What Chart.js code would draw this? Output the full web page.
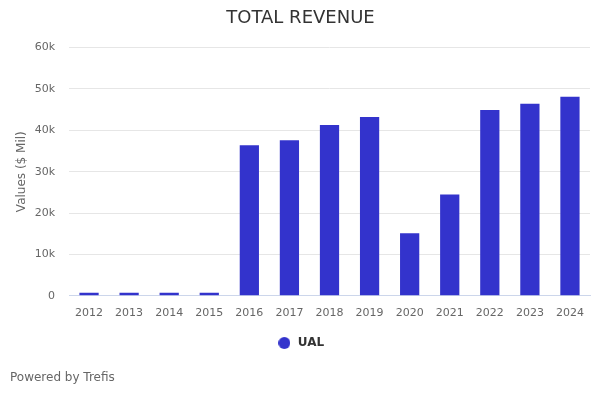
<!DOCTYPE html>
<html lang="en">
<head>
  <meta charset="UTF-8" />
  <title>Total Revenue</title>
  <script src="https://cdn.jsdelivr.net/npm/chart.js"></script>
  <style>
    body { margin: 0; background: #ffffff; font-family: 'DejaVu Sans', sans-serif; }
    #wrap { position: relative; width: 600px; height: 400px; }
    #credit { position: absolute; left: 10px; top: 370px; font-size: 12px; color: #666666; }
  </style>
</head>
<body>
<div id="wrap">
  <canvas id="revChart" width="600" height="400"></canvas>
  <div id="credit">Powered by Trefis</div>
</div>
<script>
  const years = ['2012','2013','2014','2015','2016','2017','2018','2019','2020','2021','2022','2023','2024'];
  const ualRevenue = [750, 750, 750, 750, 36400, 37600, 41300, 43200, 15100, 24500, 44900, 46400, 48100];

  // round legend marker
  const dot = document.createElement('canvas');
  dot.width = 12; dot.height = 12;
  const dctx = dot.getContext('2d');
  dctx.fillStyle = '#3333cc';
  dctx.beginPath();
  dctx.arc(6, 6, 6, 0, Math.PI * 2);
  dctx.fill();

  const ctx = document.getElementById('revChart').getContext('2d');
  new Chart(ctx, {
    type: 'bar',
    data: {
      labels: years,
      datasets: [{
        label: 'UAL',
        data: ualRevenue,
        backgroundColor: '#3333cc',
        borderWidth: 0,
        categoryPercentage: 1,
        barPercentage: 0.48,
        pointStyle: dot
      }]
    },
    options: {
      responsive: false,
      animation: false,
      layout: { padding: { left: 11, right: 10, top: 4, bottom: 41 } },
      plugins: {
        title: {
          display: true,
          text: 'TOTAL REVENUE',
          color: '#333333',
          font: { family: 'DejaVu Sans', size: 18, weight: 'normal' },
          padding: { top: 4, bottom: 18 }
        },
        legend: {
          position: 'bottom',
          labels: {
            usePointStyle: true,
            boxWidth: 9,
            boxHeight: 9,
            pointStyleWidth: 15,
            color: '#333333',
            font: { family: 'DejaVu Sans', size: 12, weight: 'bold' },
            padding: 14
          }
        },
        tooltip: { enabled: false }
      },
      scales: {
        x: {
          grid: { display: false },
          border: { color: '#ccd6eb' },
          ticks: { color: '#666666', font: { family: 'DejaVu Sans', size: 11 }, maxRotation: 0 }
        },
        y: {
          min: 0,
          max: 60000,
          afterFit: s => { s.width = 58; },
          grid: { color: '#e6e6e6', drawTicks: false },
          border: { display: false },
          ticks: {
            stepSize: 10000,
            padding: 14,
            color: '#666666',
            font: { family: 'DejaVu Sans', size: 11 },
            callback: v => v === 0 ? '0' : (v / 1000) + 'k'
          },
          title: {
            display: true,
            text: 'Values ($ Mil)',
            color: '#666666',
            font: { family: 'DejaVu Sans', size: 12 }
          }
        }
      }
    }
  });
</script>
</body>
</html>
